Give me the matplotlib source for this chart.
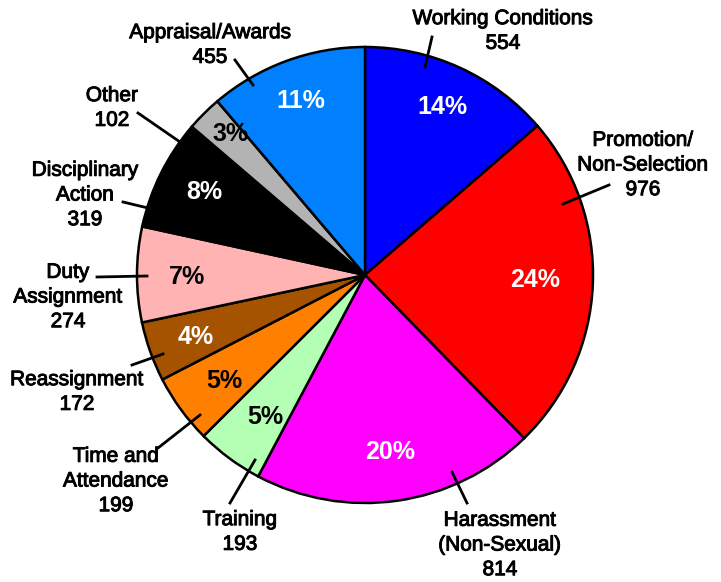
import matplotlib
matplotlib.use("Agg")
from matplotlib import pyplot as plt
import matplotlib.patheffects as pe

# complaint categories, clockwise from 12 o'clock
labels = ['Working Conditions\n554', 'Promotion/\nNon-Selection\n976',
          'Harassment\n(Non-Sexual)\n814', 'Training\n193',
          'Time and\nAttendance\n199', 'Reassignment\n172',
          'Duty\nAssignment\n274', 'Disciplinary\nAction\n319',
          'Other\n102', 'Appraisal/Awards\n455']
counts = [554, 976, 814, 193, 199, 172, 274, 319, 102, 455]
colors = ['#0000FF', '#FF0000', '#FF00FF', '#B3FFB3', '#FF8000',
          '#A65300', '#FFB3B3', '#000000', '#B3B3B3', '#0080FF']
pct_white = [True, True, True, False, False, True, False, True, False, True]

W, H = 721, 582
fig = plt.figure(figsize=(W / 100, H / 100), dpi=100)
ax = fig.add_axes([0, 0, 1, 1])

cx, cy, R = 365, H - 275, 228
wedges, texts, autotexts = ax.pie(
    counts, colors=colors, startangle=90, counterclock=False,
    center=(cx, cy), radius=R, autopct='%.0f%%', pctdistance=0.79,
    wedgeprops=dict(edgecolor='black', linewidth=1.8),
    textprops=dict(fontsize=18, fontweight='bold', family='Liberation Sans'))
ax.set_xlim(0, W)
ax.set_ylim(0, H)
ax.set_aspect('equal')
ax.axis('off')

# percent label centres (px, top-down)
pct_pos = [(442, 107), (535, 280), (390, 452), (265, 417), (224, 381),
           (196, 337), (187, 277), (204, 192), (231, 134), (301, 101)]
for t, w, (px, py) in zip(autotexts, pct_white, pct_pos):
    t.set_color('white' if w else 'black')
    t.set_position((px, H - py))

# label centre (px, top-down), leader line start/end (px)
lab_pos = [(503, 31), (643, 165), (500, 545), (240, 532), (116, 481),
           (77, 392), (68, 297), (85, 195), (112, 108), (210, 45)]
lines = [((425, 67), (432, 37)), ((563, 204), (609, 185)),
         ((452, 472), (467, 503)), ((255, 460), (230, 503)),
         ((200, 415), (158, 448)), ((163, 354), (132, 365)),
         ((147, 276), (97, 277)), ((148, 208), (123, 202)),
         ((180, 142), (138, 113)), ((253, 85), (235, 60))]

for lab, (lx, ly), (p0, p1) in zip(labels, lab_pos, lines):
    ax.text(lx, H - ly, lab, ha='center', va='center', fontsize=15,
            family='Liberation Sans', linespacing=1.38,
            path_effects=[pe.withStroke(linewidth=0.7, foreground='black')])
    ax.plot([p0[0], p1[0]], [H - p0[1], H - p1[1]], color='black', lw=2)

plt.savefig('out.png', dpi=100)
